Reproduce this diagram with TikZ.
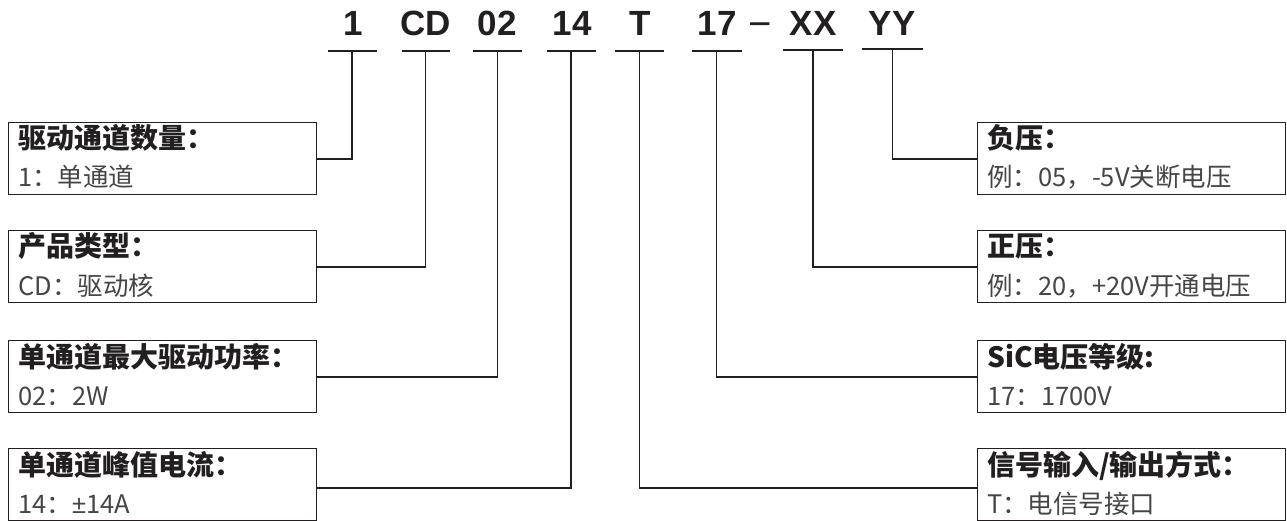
\documentclass[tikz,border=0pt]{standalone}
\usepackage{fontspec}
\setmainfont{Noto Sans CJK SC}
\newfontfamily\codefont{Liberation Sans}
\definecolor{ink}{HTML}{231F20}
\definecolor{subgray}{HTML}{454545}
\begin{document}
\begin{tikzpicture}[x=1pt,y=-1pt,
  code/.style={font=\codefont\bfseries\fontsize{35}{35}\selectfont, text=ink, anchor=base, inner sep=0},
  dashtxt/.style={font=\codefont\fontsize{40}{40}\selectfont, text=ink, anchor=base, inner sep=0},
  ubar/.style={inner sep=0, minimum height=0pt, outer sep=0},
  barline/.style={draw=ink, line width=1.8pt},
  conn/.style={draw=ink, line width=1.8pt},
  box/.style={draw=ink, line width=1.4pt, minimum width=308pt, minimum height=72pt, anchor=north west, inner sep=0},
  ttl/.style={font=\bfseries\fontsize{28}{28}\selectfont, text=ink, anchor=base west, inner sep=0},
  subtxt/.style={font=\fontsize{25.5}{25.5}\selectfont, text=subgray, anchor=base west, inner sep=0},
]
\useasboundingbox (0,0) rectangle (1287,521);

% product code
\node[code] (k1) at (353,36) {1};
\node[code] (k2) at (426,36) {CD};
\node[code] (k3) at (497,36) {02};
\node[code] (k4) at (572,36) {14};
\node[code] (k5) at (640,36) {T};
\node[code] (k6) at (717,36) {17};
\node[dashtxt] (kd) at (760,38) {−};
\node[code] (k7) at (813,36) {XX};
\node[code] (k8) at (892,36) {YY};

% underline bars
\node[ubar, minimum width=49pt] (u1) at (352,51) {};
\node[ubar, minimum width=48pt] (u2) at (425.5,51) {};
\node[ubar, minimum width=49pt] (u3) at (497.5,51) {};
\node[ubar, minimum width=49pt] (u4) at (571,51) {};
\node[ubar, minimum width=49pt] (u5) at (639.5,51) {};
\node[ubar, minimum width=50pt] (u6) at (716.5,51) {};
\node[ubar, minimum width=60pt] (u7) at (813,50) {};
\node[ubar, minimum width=61pt] (u8) at (892.5,49) {};
\foreach \u in {u1,u2,u3,u4,u5,u6,u7,u8}{
  \draw[barline] (\u.west) -- (\u.east);
}

% left boxes
\node[box] (b1) at (8,122) {};
\node[box] (b2) at (8,230) {};
\node[box] (b3) at (8,340) {};
\node[box] (b4) at (8,448) {};
% right boxes
\node[box] (b5) at (977,122) {};
\node[box] (b6) at (977,230) {};
\node[box] (b7) at (977,340) {};
\node[box] (b8) at (977,448) {};

% texts
\node[ttl] (t1) at ([shift={(10,27)}]b1.north west) {驱动通道数量：};
\node[subtxt] (s1) at ([shift={(10,65)}]b1.north west) {1：单通道};
\node[ttl] (t2) at ([shift={(10,27)}]b2.north west) {产品类型：};
\node[subtxt] (s2) at ([shift={(10,65)}]b2.north west) {CD：驱动核};
\node[ttl] (t3) at ([shift={(10,27)}]b3.north west) {单通道最大驱动功率：};
\node[subtxt] (s3) at ([shift={(10,65)}]b3.north west) {02：2W};
\node[ttl] (t4) at ([shift={(10,27)}]b4.north west) {单通道峰值电流：};
\node[subtxt] (s4) at ([shift={(10,65)}]b4.north west) {14：{\codefont ±}14A};

\node[ttl] (t5) at ([shift={(10,27)}]b5.north west) {负压：};
\node[subtxt] (s5) at ([shift={(10,65)}]b5.north west) {例：05，-5V关断电压};
\node[ttl] (t6) at ([shift={(10,27)}]b6.north west) {正压：};
\node[subtxt] (s6) at ([shift={(10,65)}]b6.north west) {例：20，+20V开通电压};
\node[ttl] (t7) at ([shift={(10,27)}]b7.north west) {SiC电压等级:};
\node[subtxt] (s7) at ([shift={(10,65)}]b7.north west) {17：1700V};
\node[ttl] (t8) at ([shift={(10,27)}]b8.north west) {信号输入/输出方式：};
\node[subtxt] (s8) at ([shift={(10,65)}]b8.north west) {T：电信号接口};

% connectors
\draw[conn] (u1.center) |- (b1.east);
\draw[conn] (u2.center) |- (b2.east);
\draw[conn] (u3.center) |- (b3.east);
\draw[conn] (u4.center) |- ([yshift=-3pt]b4.east);
\draw[conn] (u5.center) |- ([yshift=-3pt]b8.west);
\draw[conn] (u6.center) |- (b7.west);
\draw[conn] (u7.center) |- (b6.west);
\draw[conn] (u8.center) |- (b5.west);
\end{tikzpicture}
\end{document}
